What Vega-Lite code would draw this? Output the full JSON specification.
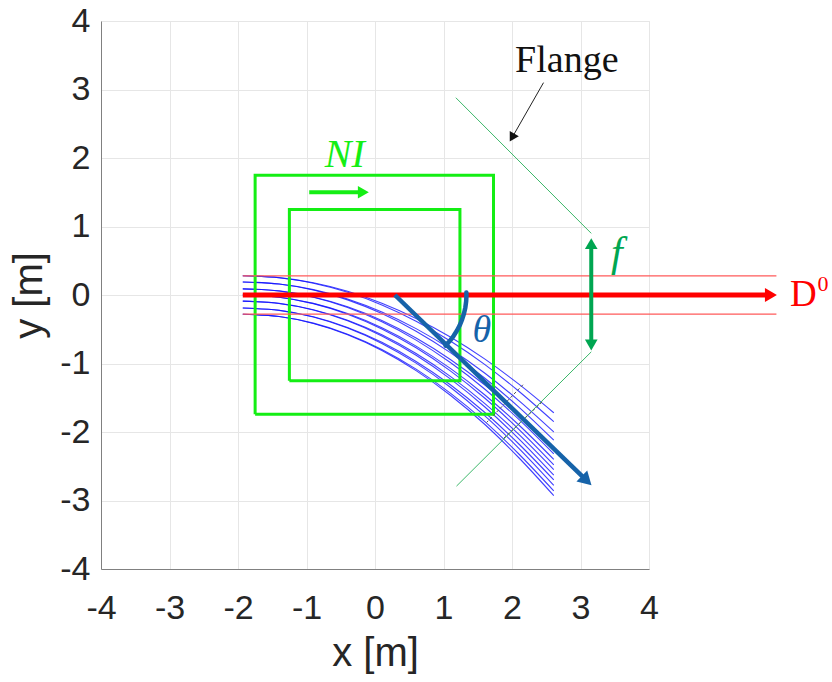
{
  "$schema": "https://vega.github.io/schema/vega-lite/v6.json",
  "width": 548,
  "height": 548,
  "autosize": "none",
  "padding": {"left": 101, "top": 21, "right": 183, "bottom": 113},
  "background": "white",
  "config": {
    "view": {"stroke": "#dedede", "strokeWidth": 1},
    "axis": {
      "grid": true,
      "gridColor": "#e6e6e6",
      "gridWidth": 1,
      "domainColor": "#808080",
      "domainWidth": 1,
      "ticks": false,
      "labelFont": "Liberation Sans",
      "labelFontSize": 34,
      "labelColor": "#262626",
      "labelFlush": false,
      "labelOverlap": false,
      "labelExpr": "datum.value + ''",
      "titleFont": "Liberation Sans",
      "titleFontSize": 40,
      "titleFontWeight": "normal",
      "titleColor": "#262626"
    }
  },
  "datasets": {
    "traj": [
      {"c":1,"x":-1.93,"y":0.28},{"c":1,"x":-1.4,"y":0.254},{"c":1,"x":-0.9,"y":0.178},{"c":1,"x":-0.4,"y":0.054},{"c":1,"x":0.1,"y":-0.119},{"c":1,"x":0.6,"y":-0.342},{"c":1,"x":1.1,"y":-0.613},{"c":1,"x":1.6,"y":-0.933},{"c":1,"x":2.1,"y":-1.302},{"c":1,"x":2.61,"y":-1.72},
      {"c":2,"x":-1.93,"y":0.28},{"c":2,"x":-1.4,"y":0.252},{"c":2,"x":-0.9,"y":0.172},{"c":2,"x":-0.4,"y":0.039},{"c":2,"x":0.1,"y":-0.145},{"c":2,"x":0.6,"y":-0.382},{"c":2,"x":1.1,"y":-0.671},{"c":2,"x":1.6,"y":-1.012},{"c":2,"x":2.1,"y":-1.405},{"c":2,"x":2.61,"y":-1.85},
      {"c":3,"x":-1.93,"y":0.19},{"c":3,"x":-1.4,"y":0.161},{"c":3,"x":-0.9,"y":0.079},{"c":3,"x":-0.4,"y":-0.057},{"c":3,"x":0.1,"y":-0.247},{"c":3,"x":0.6,"y":-0.491},{"c":3,"x":1.1,"y":-0.788},{"c":3,"x":1.6,"y":-1.138},{"c":3,"x":2.1,"y":-1.542},{"c":3,"x":2.61,"y":-2.0},
      {"c":4,"x":-1.93,"y":0.19},{"c":4,"x":-1.4,"y":0.16},{"c":4,"x":-0.9,"y":0.072},{"c":4,"x":-0.4,"y":-0.071},{"c":4,"x":0.1,"y":-0.271},{"c":4,"x":0.6,"y":-0.528},{"c":4,"x":1.1,"y":-0.841},{"c":4,"x":1.6,"y":-1.211},{"c":4,"x":2.1,"y":-1.637},{"c":4,"x":2.61,"y":-2.12},
      {"c":5,"x":-1.93,"y":0.09},{"c":5,"x":-1.4,"y":0.06},{"c":5,"x":-0.9,"y":-0.028},{"c":5,"x":-0.4,"y":-0.171},{"c":5,"x":0.1,"y":-0.371},{"c":5,"x":0.6,"y":-0.628},{"c":5,"x":1.1,"y":-0.941},{"c":5,"x":1.6,"y":-1.311},{"c":5,"x":2.1,"y":-1.737},{"c":5,"x":2.61,"y":-2.22},
      {"c":6,"x":-1.93,"y":0.09},{"c":6,"x":-1.4,"y":0.058},{"c":6,"x":-0.9,"y":-0.033},{"c":6,"x":-0.4,"y":-0.182},{"c":6,"x":0.1,"y":-0.391},{"c":6,"x":0.6,"y":-0.659},{"c":6,"x":1.1,"y":-0.986},{"c":6,"x":1.6,"y":-1.372},{"c":6,"x":2.1,"y":-1.816},{"c":6,"x":2.61,"y":-2.32},
      {"c":7,"x":-1.93,"y":0.0},{"c":7,"x":-1.4,"y":-0.032},{"c":7,"x":-0.9,"y":-0.122},{"c":7,"x":-0.4,"y":-0.271},{"c":7,"x":0.1,"y":-0.479},{"c":7,"x":0.6,"y":-0.746},{"c":7,"x":1.1,"y":-1.071},{"c":7,"x":1.6,"y":-1.456},{"c":7,"x":2.1,"y":-1.898},{"c":7,"x":2.61,"y":-2.4},
      {"c":8,"x":-1.93,"y":0.0},{"c":8,"x":-1.4,"y":-0.033},{"c":8,"x":-0.9,"y":-0.126},{"c":8,"x":-0.4,"y":-0.28},{"c":8,"x":0.1,"y":-0.495},{"c":8,"x":0.6,"y":-0.771},{"c":8,"x":1.1,"y":-1.107},{"c":8,"x":1.6,"y":-1.504},{"c":8,"x":2.1,"y":-1.962},{"c":8,"x":2.61,"y":-2.48},
      {"c":9,"x":-1.93,"y":-0.09},{"c":9,"x":-1.4,"y":-0.122},{"c":9,"x":-0.9,"y":-0.215},{"c":9,"x":-0.4,"y":-0.368},{"c":9,"x":0.1,"y":-0.581},{"c":9,"x":0.6,"y":-0.855},{"c":9,"x":1.1,"y":-1.188},{"c":9,"x":1.6,"y":-1.582},{"c":9,"x":2.1,"y":-2.036},{"c":9,"x":2.61,"y":-2.55},
      {"c":10,"x":-1.93,"y":-0.09},{"c":10,"x":-1.4,"y":-0.124},{"c":10,"x":-0.9,"y":-0.219},{"c":10,"x":-0.4,"y":-0.377},{"c":10,"x":0.1,"y":-0.597},{"c":10,"x":0.6,"y":-0.879},{"c":10,"x":1.1,"y":-1.224},{"c":10,"x":1.6,"y":-1.631},{"c":10,"x":2.1,"y":-2.099},{"c":10,"x":2.61,"y":-2.63},
      {"c":11,"x":-1.93,"y":-0.19},{"c":11,"x":-1.4,"y":-0.223},{"c":11,"x":-0.9,"y":-0.318},{"c":11,"x":-0.4,"y":-0.474},{"c":11,"x":0.1,"y":-0.691},{"c":11,"x":0.6,"y":-0.97},{"c":11,"x":1.1,"y":-1.31},{"c":11,"x":1.6,"y":-1.712},{"c":11,"x":2.1,"y":-2.175},{"c":11,"x":2.61,"y":-2.7},
      {"c":12,"x":-1.93,"y":-0.19},{"c":12,"x":-1.4,"y":-0.224},{"c":12,"x":-0.9,"y":-0.322},{"c":12,"x":-0.4,"y":-0.483},{"c":12,"x":0.1,"y":-0.707},{"c":12,"x":0.6,"y":-0.995},{"c":12,"x":1.1,"y":-1.346},{"c":12,"x":1.6,"y":-1.761},{"c":12,"x":2.1,"y":-2.239},{"c":12,"x":2.61,"y":-2.78},
      {"c":13,"x":-1.93,"y":-0.28},{"c":13,"x":-1.4,"y":-0.314},{"c":13,"x":-0.9,"y":-0.411},{"c":13,"x":-0.4,"y":-0.572},{"c":13,"x":0.1,"y":-0.795},{"c":13,"x":0.6,"y":-1.082},{"c":13,"x":1.1,"y":-1.432},{"c":13,"x":1.6,"y":-1.845},{"c":13,"x":2.1,"y":-2.321},{"c":13,"x":2.61,"y":-2.86},
      {"c":14,"x":-1.93,"y":-0.28},{"c":14,"x":-1.4,"y":-0.315},{"c":14,"x":-0.9,"y":-0.415},{"c":14,"x":-0.4,"y":-0.579},{"c":14,"x":0.1,"y":-0.809},{"c":14,"x":0.6,"y":-1.104},{"c":14,"x":1.1,"y":-1.463},{"c":14,"x":1.6,"y":-1.887},{"c":14,"x":2.1,"y":-2.376},{"c":14,"x":2.61,"y":-2.93}
    ],
    "geom": [
      {"g":"outer","o":1,"x":-1.75,"y":-1.74},{"g":"outer","o":2,"x":-1.75,"y":1.75},{"g":"outer","o":3,"x":1.73,"y":1.75},{"g":"outer","o":4,"x":1.73,"y":-1.74},{"g":"outer","o":5,"x":-1.75,"y":-1.74},
      {"g":"inner","o":1,"x":-1.25,"y":-1.25},{"g":"inner","o":2,"x":-1.25,"y":1.25},{"g":"inner","o":3,"x":1.24,"y":1.25},{"g":"inner","o":4,"x":1.24,"y":-1.25},{"g":"inner","o":5,"x":-1.25,"y":-1.25},
      {"g":"niArrow","o":1,"x":-0.96,"y":1.5},{"g":"niArrow","o":2,"x":-0.2,"y":1.5},
      {"g":"redUp","o":1,"x":-1.93,"y":0.28},{"g":"redUp","o":2,"x":5.86,"y":0.28},
      {"g":"redDn","o":1,"x":-1.93,"y":-0.28},{"g":"redDn","o":2,"x":5.86,"y":-0.28},
      {"g":"redMain","o":1,"x":-1.93,"y":0.0},{"g":"redMain","o":2,"x":5.74,"y":0.0},
      {"g":"flUp","o":1,"x":1.18,"y":2.88},{"g":"flUp","o":2,"x":3.157,"y":0.9},
      {"g":"flDn","o":1,"x":3.157,"y":-0.83},{"g":"flDn","o":2,"x":1.19,"y":-2.79},
      {"g":"dash1","o":1,"x":2.16,"y":-1.31},{"g":"dash1","o":2,"x":1.63,"y":-1.86},
      {"g":"dash2","o":1,"x":2.44,"y":-1.56},{"g":"dash2","o":2,"x":1.86,"y":-2.11},
      {"g":"blueArrow","o":1,"x":0.29,"y":0.0},{"g":"blueArrow","o":2,"x":3.08,"y":-2.7},
      {"g":"arc","o":1,"x":1.334,"y":0.036},{"g":"arc","o":2,"x":1.335,"y":0.0},{"g":"arc","o":3,"x":1.331,"y":-0.091},{"g":"arc","o":4,"x":1.319,"y":-0.181},{"g":"arc","o":5,"x":1.299,"y":-0.27},{"g":"arc","o":6,"x":1.272,"y":-0.357},{"g":"arc","o":7,"x":1.237,"y":-0.442},{"g":"arc","o":8,"x":1.195,"y":-0.523},{"g":"arc","o":9,"x":1.146,"y":-0.599},{"g":"arc","o":10,"x":1.091,"y":-0.672},{"g":"arc","o":11,"x":1.029,"y":-0.739},
      {"g":"fArrow","o":1,"x":3.157,"y":0.74},{"g":"fArrow","o":2,"x":3.157,"y":-0.72},
      {"g":"flPtr","o":1,"x":2.46,"y":3.1},{"g":"flPtr","o":2,"x":2.02,"y":2.33}
    ],
    "heads": [
      {"h":"red","x":5.78,"y":0.0},
      {"h":"ni","x":-0.17,"y":1.5},
      {"h":"blue","x":3.09,"y":-2.71},
      {"h":"fUp","x":3.157,"y":0.75},
      {"h":"fDn","x":3.157,"y":-0.73},
      {"h":"flPtr","x":2.0,"y":2.3}
    ],
    "labels": [
      {"k":"flange","t":"Flange","x":2.8,"y":3.25},
      {"k":"ni","t":"NI","x":-0.44,"y":2.04},
      {"k":"theta","t":"θ","x":1.56,"y":-0.52},
      {"k":"f","t":"f","x":3.53,"y":0.61},
      {"k":"D","t":"D","x":6.06,"y":0.0},
      {"k":"sup","t":"0","x":6.46,"y":0.16}
    ]
  },
  "encoding": {
    "x": {
      "field": "x", "type": "quantitative",
      "scale": {"domain": [-4, 4], "nice": false, "zero": false},
      "axis": {"values": [-4, -3, -2, -1, 0, 1, 2, 3, 4], "title": "x [m]", "labelPadding": 22, "titlePadding": 8}
    },
    "y": {
      "field": "y", "type": "quantitative",
      "scale": {"domain": [-4, 4], "nice": false, "zero": false},
      "axis": {"values": [-4, -3, -2, -1, 0, 1, 2, 3, 4], "title": "y [m]", "labelPadding": 11, "titlePadding": 10}
    }
  },
  "layer": [
    {
      "data": {"name": "traj"},
      "mark": {"type": "line", "color": "#1010ff", "strokeWidth": 1.1, "opacity": 0.8, "interpolate": "monotone"},
      "encoding": {"detail": {"field": "c"}}
    },
    {
      "data": {"name": "geom"},
      "transform": [{"filter": "datum.g === 'outer' || datum.g === 'inner'"}],
      "mark": {"type": "line", "color": "#14ee14", "strokeWidth": 3},
      "encoding": {"detail": {"field": "g"}, "order": {"field": "o"}}
    },
    {
      "data": {"name": "geom"},
      "transform": [{"filter": "datum.g === 'redUp' || datum.g === 'redDn'"}],
      "mark": {"type": "line", "color": "#ff5a5a", "strokeWidth": 1.3},
      "encoding": {"detail": {"field": "g"}, "order": {"field": "o"}}
    },
    {
      "data": {"name": "geom"},
      "transform": [{"filter": "datum.g === 'redMain'"}],
      "mark": {"type": "line", "color": "#ff0000", "strokeWidth": 5},
      "encoding": {"order": {"field": "o"}}
    },
    {
      "data": {"name": "geom"},
      "transform": [{"filter": "datum.g === 'flUp' || datum.g === 'flDn'"}],
      "mark": {"type": "line", "color": "#3cb86a", "strokeWidth": 1},
      "encoding": {"detail": {"field": "g"}, "order": {"field": "o"}}
    },
    {
      "data": {"name": "geom"},
      "transform": [{"filter": "datum.g === 'dash1' || datum.g === 'dash2'"}],
      "mark": {"type": "line", "color": "#555555", "strokeWidth": 1, "strokeDash": [3, 2]},
      "encoding": {"detail": {"field": "g"}, "order": {"field": "o"}}
    },
    {
      "data": {"name": "geom"},
      "transform": [{"filter": "datum.g === 'blueArrow'"}],
      "mark": {"type": "line", "color": "#1663a9", "strokeWidth": 4.5},
      "encoding": {"order": {"field": "o"}}
    },
    {
      "data": {"name": "geom"},
      "transform": [{"filter": "datum.g === 'arc'"}],
      "mark": {"type": "line", "color": "#1663a9", "strokeWidth": 4.5, "strokeCap": "round", "strokeJoin": "round"},
      "encoding": {"order": {"field": "o"}}
    },
    {
      "data": {"name": "geom"},
      "transform": [{"filter": "datum.g === 'fArrow'"}],
      "mark": {"type": "line", "color": "#00a651", "strokeWidth": 4},
      "encoding": {"order": {"field": "o"}}
    },
    {
      "data": {"name": "geom"},
      "transform": [{"filter": "datum.g === 'niArrow'"}],
      "mark": {"type": "line", "color": "#14ee14", "strokeWidth": 4},
      "encoding": {"order": {"field": "o"}}
    },
    {
      "data": {"name": "geom"},
      "transform": [{"filter": "datum.g === 'flPtr'"}],
      "mark": {"type": "line", "color": "#222222", "strokeWidth": 1},
      "encoding": {"order": {"field": "o"}}
    },
    {
      "data": {"name": "heads"},
      "transform": [{"filter": "datum.h === 'red'"}],
      "mark": {"type": "point", "shape": "triangle-right", "filled": true, "color": "#ff0000", "size": 190, "opacity": 1}
    },
    {
      "data": {"name": "heads"},
      "transform": [{"filter": "datum.h === 'ni'"}],
      "mark": {"type": "point", "shape": "triangle-right", "filled": true, "color": "#14ee14", "size": 160, "opacity": 1}
    },
    {
      "data": {"name": "heads"},
      "transform": [{"filter": "datum.h === 'blue'"}],
      "mark": {"type": "point", "shape": "triangle-up", "angle": 134, "filled": true, "color": "#1663a9", "size": 240, "opacity": 1}
    },
    {
      "data": {"name": "heads"},
      "transform": [{"filter": "datum.h === 'fUp'"}],
      "mark": {"type": "point", "shape": "triangle-up", "filled": true, "color": "#00a651", "size": 160, "opacity": 1}
    },
    {
      "data": {"name": "heads"},
      "transform": [{"filter": "datum.h === 'fDn'"}],
      "mark": {"type": "point", "shape": "triangle-down", "filled": true, "color": "#00a651", "size": 160, "opacity": 1}
    },
    {
      "data": {"name": "heads"},
      "transform": [{"filter": "datum.h === 'flPtr'"}],
      "mark": {"type": "point", "shape": "triangle-up", "angle": 210, "filled": true, "color": "#111111", "size": 110, "opacity": 1}
    },
    {
      "data": {"name": "labels"},
      "transform": [{"filter": "datum.k === 'flange'"}],
      "mark": {"type": "text", "font": "Liberation Serif", "fontSize": 38, "color": "#111111", "align": "center", "baseline": "alphabetic"},
      "encoding": {"text": {"field": "t"}}
    },
    {
      "data": {"name": "labels"},
      "transform": [{"filter": "datum.k === 'ni'"}],
      "mark": {"type": "text", "font": "Liberation Serif", "fontStyle": "italic", "fontSize": 40, "color": "#14ee14", "align": "center", "baseline": "middle"},
      "encoding": {"text": {"field": "t"}}
    },
    {
      "data": {"name": "labels"},
      "transform": [{"filter": "datum.k === 'theta'"}],
      "mark": {"type": "text", "font": "Liberation Serif", "fontStyle": "italic", "fontSize": 38, "color": "#1663a9", "align": "center", "baseline": "middle"},
      "encoding": {"text": {"field": "t"}}
    },
    {
      "data": {"name": "labels"},
      "transform": [{"filter": "datum.k === 'f'"}],
      "mark": {"type": "text", "font": "Liberation Serif", "fontStyle": "italic", "fontSize": 42, "color": "#00a651", "align": "center", "baseline": "middle"},
      "encoding": {"text": {"field": "t"}}
    },
    {
      "data": {"name": "labels"},
      "transform": [{"filter": "datum.k === 'D'"}],
      "mark": {"type": "text", "font": "Liberation Serif", "fontSize": 37, "color": "#ff0000", "align": "left", "baseline": "middle"},
      "encoding": {"text": {"field": "t"}}
    },
    {
      "data": {"name": "labels"},
      "transform": [{"filter": "datum.k === 'sup'"}],
      "mark": {"type": "text", "font": "Liberation Serif", "fontSize": 22, "color": "#ff0000", "align": "left", "baseline": "middle"},
      "encoding": {"text": {"field": "t"}}
    }
  ]
}
